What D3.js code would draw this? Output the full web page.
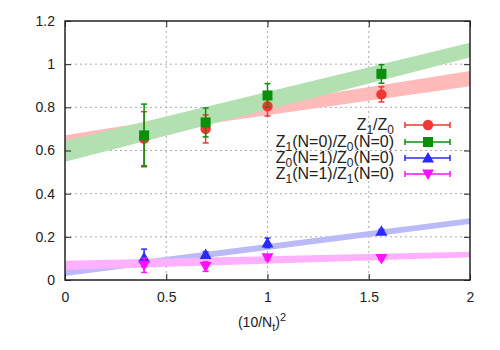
<!DOCTYPE html>
<html><head><meta charset="utf-8">
<script src="https://cdn.jsdelivr.net/npm/d3@7"></script>
<style>body{margin:0;background:#fff}svg{display:block}text{font-family:"Liberation Sans",Arial,sans-serif}</style>
</head><body><svg id="c" width="500" height="350"></svg>
<script>
// data
const xVals = [0.390625, 0.694444, 1.0, 1.5625];
const z1z0 = [0.655, 0.700, 0.805, 0.860];
const z1z0Err = [0.125, 0.065, 0.045, 0.035];
const z1N0 = [0.670, 0.730, 0.855, 0.955];
const z1N0Err = [0.145, 0.067, 0.055, 0.043];
const z0N1 = [0.103, 0.118, 0.172, 0.226];
const z0N1Err = [0.040, 0.012, 0.022, 0.008];
const z1N1 = [0.068, 0.062, 0.103, 0.100];
const z1N1Err = [0.033, 0.022, 0.010, 0.008];
const bandX = [0, 2];
const redLo = [0.630, 0.898], redHi = [0.671, 0.968];
const greenLo = [0.548, 1.031], greenHi = [0.644, 1.099];
const blueLo = [0.018, 0.259], blueHi = [0.048, 0.286];
const pinkLo = [0.046, 0.105], pinkHi = [0.089, 0.131];
const xTicks = [0, 0.5, 1, 1.5, 2];
const yTicks = [0, 0.2, 0.4, 0.6, 0.8, 1, 1.2];

const svg = d3.select("#c");
const L = 65, R = 470, T = 21, B = 280;
const x = d3.scaleLinear().domain([0, 2]).range([L, R]);
const y = d3.scaleLinear().domain([0, 1.2]).range([B, T]);

// grid
const g = svg.append("g");
g.selectAll(".gx").data(xTicks.slice(1, -1)).enter().append("line")
  .attr("x1", d => x(d)).attr("x2", d => x(d)).attr("y1", T).attr("y2", B)
  .attr("stroke", "#aaa").attr("stroke-width", 1).attr("stroke-dasharray", "2,3");
g.selectAll(".gy").data(yTicks.slice(1, -1)).enter().append("line")
  .attr("y1", d => y(d)).attr("y2", d => y(d)).attr("x1", L).attr("x2", R)
  .attr("stroke", "#aaa").attr("stroke-width", 1).attr("stroke-dasharray", "2,3");

// bands
const bands = [
  {lo: redLo, hi: redHi, c: "#ffbaba"},
  {lo: greenLo, hi: greenHi, c: "#b3e0b0"},
  {lo: blueLo, hi: blueHi, c: "#babaf8"},
  {lo: pinkLo, hi: pinkHi, c: "#ffb0ff"}
];
const area = d3.area().x(d => x(d.x)).y0(d => y(d.lo)).y1(d => y(d.hi));
bands.forEach(b => {
  svg.append("path").datum(bandX.map((xv, i) => ({x: xv, lo: b.lo[i], hi: b.hi[i]})))
    .attr("d", area).attr("fill", b.c);
});

// series
const series = [
  {v: z1z0, e: z1z0Err, c: "#f23535", m: "circle"},
  {v: z1N0, e: z1N0Err, c: "#0a8f0a", m: "square"},
  {v: z0N1, e: z0N1Err, c: "#2a2aff", m: "tri"},
  {v: z1N1, e: z1N1Err, c: "#ff10ff", m: "tridown"}
];
function marker(sel, m, cx, cy, c) {
  if (m === "circle") sel.append("circle").attr("cx", cx).attr("cy", cy).attr("r", 5.2).attr("fill", c);
  else if (m === "square") sel.append("rect").attr("x", cx - 5).attr("y", cy - 5).attr("width", 10).attr("height", 10).attr("fill", c);
  else if (m === "tri") sel.append("path").attr("d", `M${cx},${cy-6}L${cx+6},${cy+4.5}L${cx-6},${cy+4.5}Z`).attr("fill", c);
  else sel.append("path").attr("d", `M${cx},${cy+6}L${cx+6},${cy-4.5}L${cx-6},${cy-4.5}Z`).attr("fill", c);
}
series.forEach(s => {
  const gs = svg.append("g");
  s.v.forEach((v, i) => {
    const cx = x(xVals[i]), y1 = y(v + s.e[i]), y0 = y(v - s.e[i]);
    gs.append("line").attr("x1", cx).attr("x2", cx).attr("y1", y1).attr("y2", y0).attr("stroke", s.c).attr("stroke-width", 1.5);
    [y1, y0].forEach(yy => gs.append("line").attr("x1", cx - 3).attr("x2", cx + 3).attr("y1", yy).attr("y2", yy).attr("stroke", s.c).attr("stroke-width", 1.5));
    marker(gs, s.m, cx, y(v), s.c);
  });
});

// frame and ticks
svg.append("rect").attr("x", L).attr("y", T).attr("width", R - L).attr("height", B - T)
  .attr("fill", "none").attr("stroke", "#222").attr("stroke-width", 1.5);
const axB = d3.axisBottom(x).tickValues(xTicks).tickSize(-6).tickPadding(12).tickFormat(d3.format("~g"));
const axL = d3.axisLeft(y).tickValues(yTicks).tickSize(-6).tickPadding(10).tickFormat(d3.format("~g"));
const axT = d3.axisTop(x).tickValues(xTicks).tickSize(-6).tickFormat("");
const axR = d3.axisRight(y).tickValues(yTicks).tickSize(-6).tickFormat("");
[[axB, `translate(0,${B})`], [axL, `translate(${L},0)`], [axT, `translate(0,${T})`], [axR, `translate(${R},0)`]].forEach(([ax, tr]) => {
  const a = svg.append("g").attr("transform", tr).call(ax);
  a.select(".domain").remove();
  a.selectAll("line").attr("stroke", "#222").attr("stroke-width", 1);
  a.selectAll("text").attr("fill", "#222").style("font-size", "14px").style("font-family", "Liberation Sans, Arial, sans-serif");
});

// x label
const xl = svg.append("text").attr("x", 262).attr("y", 327).attr("text-anchor", "middle").attr("fill", "#222").style("font-size", "14px");
xl.append("tspan").text("(10/N");
xl.append("tspan").attr("dy", 4).style("font-size", "11px").text("t");
xl.append("tspan").attr("dy", -4).text(")");
xl.append("tspan").attr("dy", -6).style("font-size", "11px").text("2");

// legend
const legend = [
  [["Z", ""], ["1", "s"], ["/Z", ""], ["0", "s"]],
  [["Z", ""], ["1", "s"], ["(N=0)/Z", ""], ["0", "s"], ["(N=0)", ""]],
  [["Z", ""], ["0", "s"], ["(N=1)/Z", ""], ["0", "s"], ["(N=0)", ""]],
  [["Z", ""], ["1", "s"], ["(N=1)/Z", ""], ["1", "s"], ["(N=0)", ""]]
];
const legY = [125, 142, 158, 174];
legend.forEach((parts, i) => {
  const t = svg.append("text").attr("x", 394).attr("y", legY[i] + 5).attr("text-anchor", "end").attr("fill", "#222").style("font-size", "16px");
  let prev = "";
  parts.forEach(([s, k]) => {
    const ts = t.append("tspan").text(s);
    if (k === "s" && prev !== "s") ts.attr("dy", 4).style("font-size", "12px");
    else if (k !== "s" && prev === "s") ts.attr("dy", -4);
    else if (k === "s") ts.style("font-size", "12px");
    prev = k;
  });
  const s = series[i], ly = legY[i];
  svg.append("line").attr("x1", 405).attr("x2", 450).attr("y1", ly).attr("y2", ly).attr("stroke", s.c).attr("stroke-width", 1.5);
  [405, 450].forEach(xx => svg.append("line").attr("x1", xx).attr("x2", xx).attr("y1", ly - 3).attr("y2", ly + 3).attr("stroke", s.c).attr("stroke-width", 1.5));
  marker(svg, s.m, 428, ly, s.c);
});
</script></body></html>
